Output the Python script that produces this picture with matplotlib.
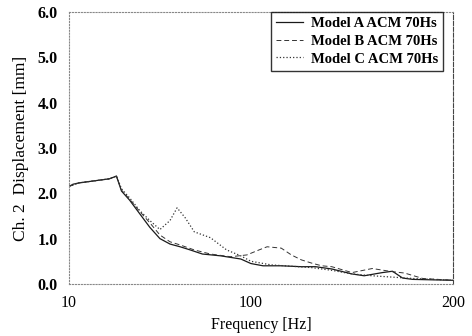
import matplotlib
matplotlib.use("Agg")
import matplotlib.pyplot as plt

plt.rcParams['font.family'] = ['Liberation Serif', 'DejaVu Serif']

# frequency [Hz] / displacement [mm]
freq_a = [10, 12, 15, 20, 25, 30, 33.5, 36, 40, 45, 50, 55, 60, 65, 70, 76, 85, 95,
          100, 106, 115, 125, 132, 140, 150, 156, 165, 170, 175, 180, 190, 200]
disp_a = [2.15, 2.20, 2.23, 2.26, 2.29, 2.32, 2.38, 2.05, 1.85, 1.55, 1.25, 1.00, 0.88, 0.82, 0.75, 0.66, 0.62, 0.55,
          0.45, 0.40, 0.40, 0.38, 0.38, 0.33, 0.22, 0.18, 0.25, 0.28, 0.13, 0.10, 0.09, 0.08]

freq_b = [10, 15, 20, 25, 30, 33.5, 36, 40, 45, 50, 55, 60, 65, 72, 80, 90, 98,
          104, 108, 115, 120, 125, 130, 135, 140, 150, 160, 170, 176, 185, 200]
disp_b = [2.15, 2.23, 2.26, 2.29, 2.32, 2.38, 2.07, 1.87, 1.60, 1.35, 1.08, 0.93, 0.86, 0.75, 0.66, 0.60, 0.64,
          0.75, 0.82, 0.79, 0.64, 0.53, 0.46, 0.40, 0.38, 0.25, 0.34, 0.27, 0.24, 0.12, 0.08]

freq_c = [10, 15, 20, 25, 30, 33.5, 36, 40, 45, 50, 55, 60, 63.5, 67.5, 72, 80, 88, 95,
          100, 110, 120, 130, 140, 150, 160, 170, 180, 190, 200]
disp_c = [2.15, 2.23, 2.26, 2.29, 2.32, 2.38, 2.10, 1.90, 1.62, 1.40, 1.20, 1.40, 1.68, 1.46, 1.15, 1.02, 0.75, 0.62,
          0.50, 0.42, 0.39, 0.36, 0.30, 0.22, 0.18, 0.15, 0.12, 0.10, 0.08]

labels = ['Model A ACM 70Hs', 'Model B ACM 70Hs', 'Model C ACM 70Hs']
xticks = [10, 100, 200]
yticks = [0, 1, 2, 3, 4, 5, 6]

fig = plt.figure(figsize=(4.72, 3.36), dpi=100)
ax = fig.add_axes([0.146, 0.155, 0.814, 0.809])

ax.plot(freq_a, disp_a, '-', color='#1a1a1a', lw=0.9, label=labels[0])
ax.plot(freq_b, disp_b, '--', color='#333333', lw=0.7, dashes=(5, 3), label=labels[1])
ax.plot(freq_c, disp_c, ':', color='#333333', lw=0.9, label=labels[2])

ax.set_xlim(10, 200)
ax.set_ylim(0, 6)
ax.set_xticks(xticks)
ax.set_xticklabels([str(t) for t in xticks], fontsize=11.5)
ax.set_yticks(yticks)
ax.set_yticklabels(['%.1f' % t for t in yticks], fontsize=11.5, fontweight='bold')
ax.tick_params(length=0, pad=8)

for side in ['top', 'left', 'bottom']:
    ax.spines[side].set_linestyle(':')
    ax.spines[side].set_color('#888888')
    ax.spines[side].set_linewidth(0.8)
ax.spines['right'].set_linestyle('--')
ax.spines['right'].set_color('#444444')
ax.spines['right'].set_linewidth(0.8)

ax.set_xlabel('Frequency [Hz]', fontsize=11.5, labelpad=4)
ax.set_ylabel('Ch. 2  Displacement [mm]', fontsize=12.5, labelpad=6)

leg = ax.legend(loc='upper right', bbox_to_anchor=(0.974, 1.0),
                prop={'weight': 'bold', 'size': 10.5}, frameon=True, fancybox=False,
                borderpad=0.35, labelspacing=0.3, handlelength=1.9, handletextpad=0.5,
                borderaxespad=0.0)
leg.get_frame().set_edgecolor('black')
leg.get_frame().set_linewidth(1.0)

fig.savefig('out.png', dpi=100)
